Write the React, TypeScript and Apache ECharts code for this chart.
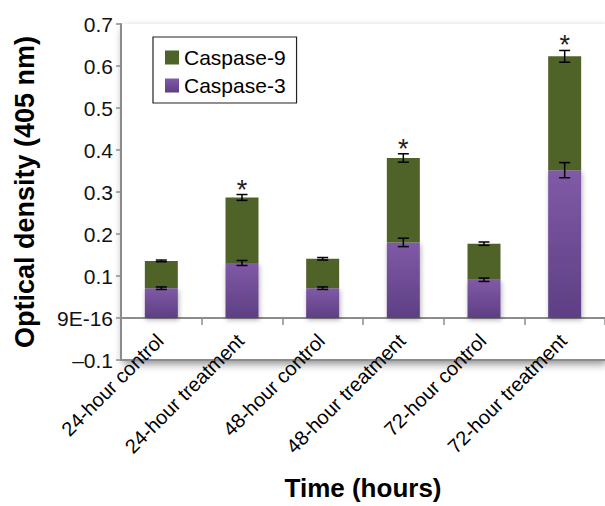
import React, { useEffect, useRef } from 'react';
import * as echarts from 'echarts';

const categories = [
  '24-hour control',
  '24-hour treatment',
  '48-hour control',
  '48-hour treatment',
  '72-hour control',
  '72-hour treatment',
];
const caspase3 = [0.071, 0.131, 0.071, 0.18, 0.091, 0.352];
const caspase9 = [0.065, 0.156, 0.07, 0.201, 0.086, 0.271];
const caspase3Err = [0.003, 0.006, 0.003, 0.01, 0.004, 0.018];
const totalErr = [0.002, 0.007, 0.003, 0.01, 0.004, 0.014];
const significant = [false, true, false, true, false, true];
const yTickValues = [-0.1, 0, 0.1, 0.2, 0.3, 0.4, 0.5, 0.6, 0.7];
const yTickLabels = ['\u20130.1', '9E-16', '0.1', '0.2', '0.3', '0.4', '0.5', '0.6', '0.7'];

const FONT = '"Liberation Sans", Arial, Helvetica, sans-serif';
const GREEN = '#4f6228';
const AXIS_GRAY = '#8c8c8c';

function errorBarRender(params: any, api: any) {
  const i = api.value(0);
  const v = api.value(1);
  const e = api.value(2);
  const sig = api.value(3);
  const top = api.coord([i, v + e]);
  const bot = api.coord([i, v - e]);
  const hw = 5.5;
  const style = { stroke: '#000', lineWidth: 1.5 };
  const children: any[] = [
    { type: 'line', shape: { x1: top[0], y1: top[1], x2: bot[0], y2: bot[1] }, style },
    { type: 'line', shape: { x1: top[0] - hw, y1: top[1], x2: top[0] + hw, y2: top[1] }, style },
    { type: 'line', shape: { x1: bot[0] - hw, y1: bot[1], x2: bot[0] + hw, y2: bot[1] }, style },
  ];
  if (sig) {
    children.push({
      type: 'text',
      x: top[0],
      y: top[1] - 5,
      style: {
        text: '*',
        fontSize: 27,
        fontFamily: FONT,
        fill: '#222',
        align: 'center',
        verticalAlign: 'middle',
      },
    });
  }
  return { type: 'group', children };
}

export default function App() {
  const ref = useRef<HTMLDivElement>(null);

  useEffect(() => {
    if (!ref.current) return;
    const chart = echarts.init(ref.current, undefined, { renderer: 'svg' });

    const totals = caspase3.map((v, i) => v + caspase9[i]);
    const c3ErrData = caspase3.map((v, i) => [i, v, caspase3Err[i], 0]);
    const totErrData = totals.map((v, i) => [i, v, totalErr[i], significant[i] ? 1 : 0]);

    const yLabel = (val: number) => {
      let best = 0;
      for (let k = 0; k < yTickValues.length; k++) {
        if (Math.abs(yTickValues[k] - val) < Math.abs(yTickValues[best] - val)) best = k;
      }
      return yTickLabels[best];
    };

    chart.setOption({
      animation: false,
      backgroundColor: '#fff',
      textStyle: { fontFamily: FONT },
      grid: {
        left: 121,
        right: 0,
        top: 24,
        bottom: 141.5,
        show: true,
        backgroundColor: '#fff',
        borderWidth: 0,
        shadowColor: 'rgba(0,0,0,0.45)',
        shadowBlur: 8,
        shadowOffsetX: 2,
        shadowOffsetY: 4,
      },
      legend: {
        orient: 'vertical',
        left: 153,
        top: 37,
        data: ['Caspase-9', 'Caspase-3'],
        borderColor: '#222',
        borderWidth: 1.2,
        padding: [10, 11, 7, 12],
        itemWidth: 14,
        itemHeight: 14,
        itemGap: 7,
        icon: 'rect',
        textStyle: { fontSize: 21, lineHeight: 21, color: '#000', fontFamily: FONT },
      },
      xAxis: [
        {
          type: 'category',
          data: categories,
          position: 'bottom',
          axisLine: { onZero: true, lineStyle: { color: AXIS_GRAY, width: 2 } },
          axisTick: { show: true, interval: 0, length: 7, lineStyle: { color: AXIS_GRAY, width: 1.5 } },
          axisLabel: {
            interval: 0,
            rotate: 45,
            fontSize: 20,
            color: '#000',
            fontFamily: FONT,
            margin: -24,
            padding: [0, 2, 0, 0],
          },
        },
        {
          type: 'category',
          data: categories,
          position: 'bottom',
          axisLine: { onZero: false, lineStyle: { color: AXIS_GRAY, width: 2 } },
          axisTick: { show: false },
          axisLabel: { show: false },
          name: 'Time (hours)',
          nameLocation: 'middle',
          nameGap: 115,
          nameTextStyle: { fontSize: 26, fontWeight: 'bold', color: '#000', fontFamily: FONT },
        },
      ],
      yAxis: {
        type: 'value',
        min: -0.1,
        max: 0.7,
        interval: 0.1,
        splitLine: { show: false },
        axisLine: { show: true, lineStyle: { color: AXIS_GRAY, width: 2 } },
        axisTick: { show: true, length: 5, lineStyle: { color: AXIS_GRAY, width: 1.5 } },
        axisLabel: { fontSize: 21, color: '#111', fontFamily: FONT, margin: 8, formatter: yLabel },
        name: 'Optical density (405 nm)',
        nameLocation: 'middle',
        nameRotate: 90,
        nameGap: 83,
        nameTextStyle: { fontSize: 27, fontWeight: 'bold', color: '#000', fontFamily: FONT },
      },
      series: [
        {
          name: 'Caspase-3',
          type: 'bar',
          stack: 'total',
          barWidth: 33,
          data: caspase3,
          itemStyle: {
            color: new echarts.graphic.LinearGradient(0, 0, 0, 1, [
              { offset: 0, color: '#805aa7' },
              { offset: 1, color: '#5d3f83' },
            ]),
            shadowColor: 'rgba(0,0,0,0.3)',
            shadowBlur: 5,
            shadowOffsetX: 1,
            shadowOffsetY: 2,
          },
        },
        {
          name: 'Caspase-9',
          type: 'bar',
          stack: 'total',
          barWidth: 33,
          data: caspase9,
          itemStyle: { color: GREEN },
        },
        {
          name: 'err3',
          type: 'custom',
          renderItem: errorBarRender,
          data: c3ErrData,
          encode: { x: 0, y: 1 },
          z: 10,
          silent: true,
        },
        {
          name: 'errTotal',
          type: 'custom',
          renderItem: errorBarRender,
          data: totErrData,
          encode: { x: 0, y: 1 },
          z: 10,
          silent: true,
        },
      ],
    });

    return () => chart.dispose();
  }, []);

  return (
    <div
      ref={ref}
      style={{ position: 'fixed', left: 0, top: 0, width: 605, height: 506 }}
    />
  );
}
